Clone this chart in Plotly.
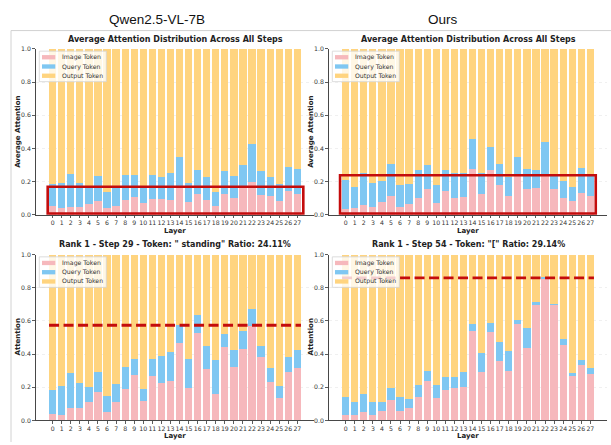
import plotly.graph_objects as go
from plotly.subplots import make_subplots

W, H = 611, 445

# ---------------- data ----------------
layers = list(range(28))
layer_labels = [str(i) for i in layers]
series_names = ["Image Token", "Query Token", "Output Token"]
series_colors = ["#F6B8BC", "#7FC7F2", "#FFD47F"]
y_ticks = [0.0, 0.2, 0.4, 0.6, 0.8, 1.0]

column_titles = ["Qwen2.5-VL-7B", "Ours"]
panel_titles = [
    "Average Attention Distribution Across All Steps",
    "Average Attention Distribution Across All Steps",
    'Rank 1 - Step 29 - Token: " standing" Ratio: 24.11%',
    'Rank 1 - Step 54 - Token: "[" Ratio: 29.14%',
]
y_titles = ["Average Attention", "Average Attention", "Attention", "Attention"]

# Qwen2.5-VL-7B, average over all steps
qwen_avg_image = [0.050, 0.042, 0.048, 0.044, 0.065, 0.083, 0.042, 0.050, 0.091, 0.107,
                  0.071, 0.095, 0.095, 0.089, 0.165, 0.077, 0.125, 0.089, 0.055, 0.125,
                  0.103, 0.165, 0.200, 0.120, 0.115, 0.083, 0.140, 0.125]
qwen_avg_query = [0.134, 0.146, 0.196, 0.146, 0.100, 0.149, 0.097, 0.115, 0.149, 0.131,
                  0.094, 0.147, 0.133, 0.161, 0.180, 0.113, 0.142, 0.141, 0.082, 0.136,
                  0.129, 0.135, 0.226, 0.145, 0.113, 0.099, 0.150, 0.148]
qwen_avg_output = [0.816, 0.812, 0.756, 0.810, 0.835, 0.768, 0.861, 0.835, 0.760, 0.762,
                   0.835, 0.758, 0.772, 0.750, 0.655, 0.810, 0.733, 0.770, 0.863, 0.739,
                   0.768, 0.700, 0.574, 0.735, 0.772, 0.818, 0.710, 0.727]

# Ours, average over all steps
ours_avg_image = [0.034, 0.040, 0.060, 0.048, 0.075, 0.115, 0.044, 0.065, 0.100, 0.154,
                  0.071, 0.140, 0.103, 0.105, 0.273, 0.125, 0.267, 0.178, 0.113, 0.232,
                  0.154, 0.160, 0.248, 0.152, 0.100, 0.083, 0.130, 0.115]
ours_avg_query = [0.174, 0.128, 0.191, 0.142, 0.127, 0.188, 0.134, 0.119, 0.169, 0.143,
                  0.109, 0.127, 0.147, 0.146, 0.184, 0.125, 0.143, 0.127, 0.112, 0.117,
                  0.119, 0.107, 0.192, 0.080, 0.104, 0.083, 0.149, 0.117]
ours_avg_output = [0.792, 0.832, 0.749, 0.810, 0.798, 0.697, 0.822, 0.816, 0.731, 0.703,
                   0.820, 0.733, 0.750, 0.749, 0.543, 0.750, 0.590, 0.695, 0.775, 0.651,
                   0.727, 0.733, 0.560, 0.768, 0.796, 0.834, 0.721, 0.768]

# Qwen2.5-VL-7B, rank 1 step
qwen_step_image = [0.040, 0.030, 0.077, 0.073, 0.111, 0.170, 0.051, 0.109, 0.190, 0.273,
                   0.117, 0.265, 0.226, 0.236, 0.467, 0.194, 0.525, 0.309, 0.160, 0.444,
                   0.321, 0.428, 0.572, 0.384, 0.230, 0.135, 0.291, 0.313]
qwen_step_query = [0.144, 0.176, 0.210, 0.151, 0.093, 0.121, 0.094, 0.111, 0.131, 0.099,
                   0.071, 0.105, 0.164, 0.174, 0.109, 0.176, 0.113, 0.137, 0.204, 0.079,
                   0.101, 0.109, 0.099, 0.067, 0.085, 0.073, 0.089, 0.109]
qwen_step_output = [0.816, 0.794, 0.713, 0.776, 0.796, 0.709, 0.855, 0.780, 0.679, 0.628,
                    0.812, 0.630, 0.610, 0.590, 0.424, 0.630, 0.362, 0.554, 0.636, 0.477,
                    0.578, 0.463, 0.329, 0.549, 0.685, 0.792, 0.620, 0.578]

# Ours, rank 1 step
ours_step_image = [0.030, 0.034, 0.053, 0.030, 0.055, 0.123, 0.059, 0.075, 0.139, 0.238,
                   0.135, 0.186, 0.194, 0.200, 0.539, 0.293, 0.535, 0.360, 0.295, 0.582,
                   0.438, 0.697, 0.855, 0.695, 0.455, 0.265, 0.337, 0.277]
ours_step_query = [0.113, 0.079, 0.107, 0.079, 0.056, 0.073, 0.082, 0.056, 0.077, 0.061,
                   0.081, 0.073, 0.069, 0.089, 0.045, 0.111, 0.055, 0.113, 0.121, 0.026,
                   0.120, 0.016, 0.010, 0.010, 0.038, 0.020, 0.027, 0.040]
ours_step_output = [0.857, 0.887, 0.840, 0.891, 0.889, 0.804, 0.859, 0.869, 0.784, 0.701,
                    0.784, 0.741, 0.737, 0.711, 0.416, 0.596, 0.410, 0.527, 0.584, 0.392,
                    0.442, 0.287, 0.135, 0.295, 0.507, 0.715, 0.636, 0.683]

# highlighted levels
box_tops = [0.168, 0.238]          # red boxes, top row
max_levels = [0.574, 0.860]        # dashed lines, bottom row

panels = [
    (qwen_avg_image, qwen_avg_query, qwen_avg_output),
    (ours_avg_image, ours_avg_query, ours_avg_output),
    (qwen_step_image, qwen_step_query, qwen_step_output),
    (ours_step_image, ours_step_query, ours_step_output),
]

# ---------------- layout geometry (pixels) ----------------
ax_px = [  # left, top, right, bottom
    (36, 45.7, 314, 214),
    (329, 45.7, 607, 214),
    (36, 254.7, 314, 423),
    (329, 254.7, 607, 423),
]
FONT = "DejaVu Sans"
RED = "#C40C0C"
TXT = "#222222"


def fx(x):
    return x / W


def fy(y):
    return 1 - y / H


fig = make_subplots(rows=2, cols=2)
shapes = []
annotations = []

for i, (img, qry, out) in enumerate(panels):
    r, c = i // 2 + 1, i % 2 + 1
    for vals, name, col in zip((img, qry, out), series_names, series_colors):
        fig.add_trace(go.Bar(x=layers, y=vals, name=name, marker=dict(color=col, line=dict(width=0)),
                             width=0.8, showlegend=False), row=r, col=c)
    l, t, rr, b = ax_px[i]
    sfx = "" if i == 0 else str(i + 1)
    fig.layout["xaxis" + sfx].update(
        domain=[fx(l), fx(rr)], range=[-1.84, 28.84], tickvals=layers, ticktext=layer_labels,
        tickangle=0, ticks="outside", ticklen=2.5, tickwidth=0.8, tickcolor="#333",
        showline=True, linecolor="#333", linewidth=0.9, showgrid=False, zeroline=False,
        tickfont=dict(family=FONT, size=6.2, color="#333"), fixedrange=True)
    fig.layout["yaxis" + sfx].update(
        domain=[fy(b), fy(t)], range=[0, 1], tickvals=y_ticks, ticktext=[f"{v:.1f}" for v in y_ticks],
        ticks="outside", ticklen=3, tickwidth=0.8, tickcolor="#333",
        showline=True, linecolor="#333", linewidth=0.9, showgrid=True, gridcolor="#ececec",
        griddash="dot", gridwidth=0.8, zeroline=False,
        tickfont=dict(family=FONT, size=6.2, color="#333"), fixedrange=True)

    xref, yref = "x" + sfx, "y" + sfx
    if i < 2:
        shapes.append(dict(type="rect", xref=xref, yref=yref, x0=[-0.55, -0.62][i], x1=[27.66, 27.6][i],
                           y0=0.006, y1=box_tops[i], line=dict(color=RED, width=2.6), layer="above"))
    else:
        shapes.append(dict(type="line", xref=xref, yref=yref, x0=-0.4, x1=27.4,
                           y0=max_levels[i - 2], y1=max_levels[i - 2],
                           line=dict(color=RED, width=2.8, dash="10px,4.5px"), layer="above"))

    # panel title
    annotations.append(dict(text="<b>" + panel_titles[i] + "</b>", x=fx((l + rr) / 2),
                            y=fy(35.7 if i < 2 else 244), xref="paper", yref="paper",
                            xanchor="center", yanchor="middle", showarrow=False,
                            font=dict(family=FONT, size=8, color=TXT)))
    # axis titles
    annotations.append(dict(text="<b>Layer</b>", x=fx((l + rr) / 2), y=fy(231.0 if i < 2 else 439.3),
                            xref="paper", yref="paper", xanchor="center", yanchor="middle",
                            showarrow=False, font=dict(family=FONT, size=7, color=TXT)))
    annotations.append(dict(text="<b>" + y_titles[i] + "</b>", x=fx(l - 18), y=fy((t + b) / 2),
                            xref="paper", yref="paper", xanchor="center", yanchor="middle",
                            textangle=-90, showarrow=False, font=dict(family=FONT, size=7, color=TXT)))

    # legend (drawn box with real text)
    bx0, by0 = l + 3.3, t + 2.2
    shapes.append(dict(type="rect", xref="paper", yref="paper", x0=fx(bx0), x1=fx(bx0 + 67),
                       y0=fy(by0 + 31), y1=fy(by0), fillcolor="rgba(255,255,255,0.8)",
                       line=dict(color="#d4d4d4", width=0.8), layer="above"))
    for k, (name, col) in enumerate(zip(series_names, series_colors)):
        cy = by0 + 6.2 + k * 9.4
        shapes.append(dict(type="rect", xref="paper", yref="paper", x0=fx(bx0 + 2.7), x1=fx(bx0 + 16),
                           y0=fy(cy + 2.2), y1=fy(cy - 2.2), fillcolor=col, line=dict(width=0),
                           layer="above"))
        annotations.append(dict(text=name, x=fx(bx0 + 20.5), y=fy(cy), xref="paper", yref="paper",
                                xanchor="left", yanchor="middle", showarrow=False,
                                font=dict(family=FONT, size=6.2, color="#333")))

# column headers
for txt, cx in zip(column_titles, [157, 443]):
    annotations.append(dict(text=txt, x=fx(cx), y=fy(15.5), xref="paper", yref="paper",
                            xanchor="center", yanchor="middle", showarrow=False,
                            font=dict(family="Liberation Sans", size=13.5, color="#111")))

# light frame lines
shapes.append(dict(type="line", xref="paper", yref="paper", x0=fx(11), x1=1, y0=fy(27), y1=fy(27),
                   line=dict(color="#d2d2d2", width=1)))
shapes.append(dict(type="line", xref="paper", yref="paper", x0=fx(11), x1=fx(11), y0=fy(27), y1=0,
                   line=dict(color="#d2d2d2", width=1)))

fig.update_layout(
    width=W, height=H, barmode="stack", bargap=0.2,
    margin=dict(l=0, r=0, t=0, b=0), paper_bgcolor="white", plot_bgcolor="white",
    shapes=shapes, annotations=annotations, showlegend=False, hovermode=False,
    font=dict(family=FONT),
)

fig.write_html("out.html", config={"displayModeBar": False, "staticPlot": True},
               post_script="document.body.style.margin='0px';document.body.style.overflow='hidden';")
